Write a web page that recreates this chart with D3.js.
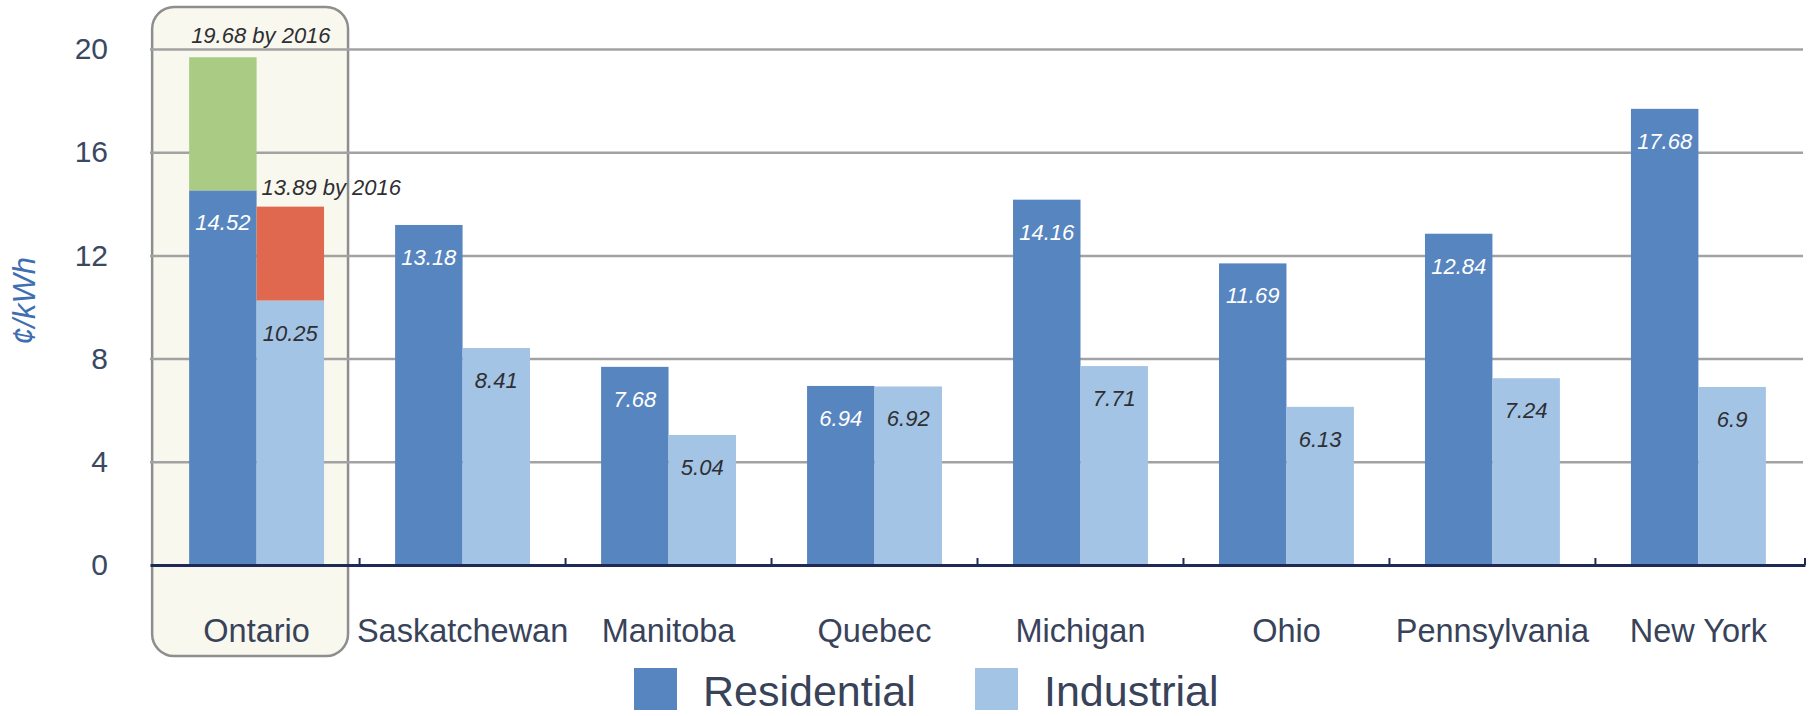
<!DOCTYPE html>
<html>
<head>
<meta charset="utf-8">
<script src="https://cdn.jsdelivr.net/npm/d3@7"></script>
<style>
  body { margin: 0; background: #fff; }
  svg { display: block; font-family: "Liberation Sans", Arial, sans-serif; }
</style>
</head>
<body>
<svg></svg>
<script>
const width = 1814,
    height = 716;

// data
const categories = ["Ontario", "Saskatchewan", "Manitoba", "Quebec", "Michigan", "Ohio", "Pennsylvania", "New York"];
const residential = [14.52, 13.18, 7.68, 6.94, 14.16, 11.69, 12.84, 17.68];
const industrial = [10.25, 8.41, 5.04, 6.92, 7.71, 6.13, 7.24, 6.9];
const ontario2016 = {residential: 19.68, industrial: 13.89};
const yTicks = [0, 4, 8, 12, 16, 20];
const seriesNames = ["Residential", "Industrial"];

const colors = {
    residential: "#5785c0",
    industrial: "#a3c4e4",
    resFuture: "#a9cb84",
    indFuture: "#e0684f",
    text: "#38435a"
};

const svg = d3.select("svg").attr("width", width).attr("height", height);

const x0 = d3.scaleBand()
    .domain(categories)
    .range([150, 1805])
    .paddingInner(0.345)
    .paddingOuter(0.19);

const x1 = d3.scaleBand()
    .domain(["residential", "industrial"])
    .range([0, x0.bandwidth()]);

const y = d3.scaleLinear()
    .domain([0, 20])
    .range([565, 49]);

const rows = categories.map((c, i) => ({country: c, residential: residential[i], industrial: industrial[i]}));

// Ontario highlight box (behind everything)
svg.append("rect")
    .attr("x", x0("Ontario") - 37)
    .attr("y", y(20) - 42)
    .attr("width", x0.bandwidth() + 61)
    .attr("height", y(0) - y(20) + 133)
    .attr("rx", 22)
    .attr("fill", "#f9f8ee")
    .attr("stroke", "#8e8e8e")
    .attr("stroke-width", 2.5);

// gridlines
const grid = svg.append("g")
    .attr("transform", `translate(${x0.range()[0]},0)`)
    .call(d3.axisRight(y).tickValues(yTicks.filter(t => t > 0)).tickSize(x0.range()[1] - x0.range()[0] - 2).tickFormat(""));
grid.select(".domain").remove();
grid.selectAll("line").attr("stroke", "#a2a2a2").attr("stroke-width", 2.5);

// y tick labels
const yAxis = svg.append("g")
    .attr("transform", "translate(108,0)")
    .call(d3.axisLeft(y).tickValues(yTicks).tickSize(0).tickPadding(0));
yAxis.select(".domain").remove();
yAxis.selectAll("text")
    .attr("font-family", "Liberation Sans, Arial, sans-serif")
    .attr("font-size", 30)
    .attr("fill", "#3a4862");

svg.append("text")
    .attr("transform", `translate(35,${(y(12) + y(8)) / 2 - 6}) rotate(-90)`)
    .attr("text-anchor", "middle")
    .attr("font-size", 31)
    .attr("font-style", "italic")
    .attr("fill", "#3f6fb2")
    .text("¢/kWh");

// bars
const groups = svg.selectAll("g.bar")
    .data(rows)
    .enter()
    .append("g")
    .classed("bar", true)
    .attr("transform", d => `translate(${x0(d.country)},0)`);

["residential", "industrial"].forEach(type => {
    groups.append("rect")
        .attr("x", x1(type))
        .attr("y", d => y(d[type]))
        .attr("width", x1.bandwidth())
        .attr("height", d => y(0) - y(d[type]))
        .attr("fill", colors[type]);

    groups.append("text")
        .attr("x", x1(type) + x1.bandwidth() / 2)
        .attr("y", d => y(d[type]) + 40)
        .attr("text-anchor", "middle")
        .attr("font-size", 22)
        .attr("font-style", "italic")
        .attr("fill", type === "residential" ? "#ffffff" : "#2f2f33")
        .text(d => d[type]);
});

// Ontario 2016 increments
const ont = rows[0];
const ontG = svg.append("g").attr("transform", `translate(${x0("Ontario")},0)`);
ontG.append("rect")
    .attr("x", x1("residential"))
    .attr("y", y(ontario2016.residential))
    .attr("width", x1.bandwidth())
    .attr("height", y(ont.residential) - y(ontario2016.residential))
    .attr("fill", colors.resFuture);
ontG.append("rect")
    .attr("x", x1("industrial"))
    .attr("y", y(ontario2016.industrial))
    .attr("width", x1.bandwidth())
    .attr("height", y(ont.industrial) - y(ontario2016.industrial))
    .attr("fill", colors.indFuture);
ontG.append("text")
    .attr("x", x1("residential") + 2)
    .attr("y", y(ontario2016.residential) - 14)
    .attr("font-size", 22)
    .attr("font-style", "italic")
    .attr("fill", "#2f2f33")
    .text(ontario2016.residential + " by 2016");
ontG.append("text")
    .attr("x", x1("industrial") + 5)
    .attr("y", y(ontario2016.industrial) - 12)
    .attr("font-size", 22)
    .attr("font-style", "italic")
    .attr("fill", "#2f2f33")
    .text(ontario2016.industrial + " by 2016");

// x axis
const xAxis = svg.append("g")
    .attr("transform", `translate(0,${y(0)})`)
    .call(d3.axisBottom(x0).tickSize(0).tickPadding(54));
xAxis.select(".domain")
    .attr("stroke", "#1e2a55")
    .attr("stroke-width", 3);
xAxis.selectAll("text")
    .attr("font-family", "Liberation Sans, Arial, sans-serif")
    .attr("font-size", 32.5)
    .attr("fill", colors.text);

// small upward ticks between groups
const gapHalf = x0.step() * x0.paddingInner() / 2;
const tickXs = categories.slice(1).map(c => x0(c) - gapHalf).concat([x0.range()[1]]);
svg.selectAll("line.minor")
    .data(tickXs)
    .enter()
    .append("line")
    .classed("minor", true)
    .attr("x1", d => d).attr("x2", d => d)
    .attr("y1", y(0)).attr("y2", y(0) - 7)
    .attr("stroke", "#1e2a55")
    .attr("stroke-width", 2);

// legend
const legend = svg.append("g");
const legendX = [634, 975];
seriesNames.forEach((name, i) => {
    legend.append("rect")
        .attr("x", legendX[i])
        .attr("y", 668)
        .attr("width", 43)
        .attr("height", 42)
        .attr("fill", i === 0 ? colors.residential : colors.industrial);
    legend.append("text")
        .attr("x", legendX[i] + 69)
        .attr("y", 706)
        .attr("font-size", 43)
        .attr("fill", colors.text)
        .text(name);
});
</script>
</body>
</html>
